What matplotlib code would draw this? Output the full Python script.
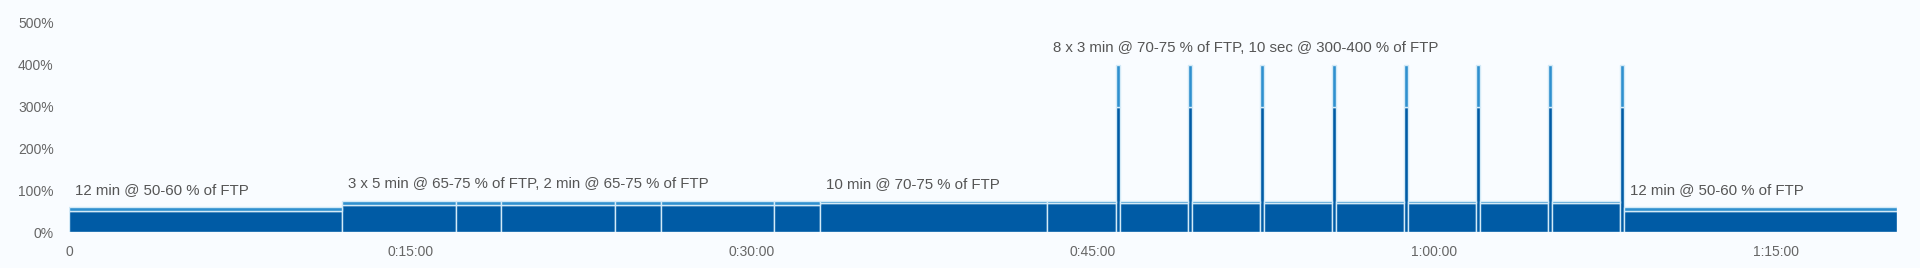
import numpy as np
import matplotlib.pyplot as plt

# workout intervals: duration in seconds, target range in % of FTP
durations = [720,
             300, 120, 300, 120, 300, 120,
             600,
             180, 10, 180, 10, 180, 10, 180, 10,
             180, 10, 180, 10, 180, 10, 180, 10,
             720]
low = [50,
       65, 65, 65, 65, 65, 65,
       70,
       70, 300, 70, 300, 70, 300, 70, 300,
       70, 300, 70, 300, 70, 300, 70, 300,
       50]
high = [60,
        75, 75, 75, 75, 75, 75,
        75,
        75, 400, 75, 400, 75, 400, 75, 400,
        75, 400, 75, 400, 75, 400, 75, 400,
        60]

# block labels: (first interval index, last interval index, text)
label_texts = ["12 min @ 50-60 % of FTP",
               "3 x 5 min @ 65-75 % of FTP, 2 min @ 65-75 % of FTP",
               "10 min @ 70-75 % of FTP",
               "8 x 3 min @ 70-75 % of FTP, 10 sec @ 300-400 % of FTP",
               "12 min @ 50-60 % of FTP"]
label_first = [0, 1, 7, 8, 24]
label_last = [0, 6, 7, 23, 24]

y_ticks = [0, 100, 200, 300, 400, 500]
x_ticks = [0, 900, 1800, 2700, 3600, 4500]

dark = '#005ba5'
band = '#2f90cf'
edge = '#d3eaf7'
bg = '#f9fcff'

starts = np.concatenate([[0], np.cumsum(durations)[:-1]])
durations = np.array(durations)
low = np.array(low)
high = np.array(high)

fig = plt.figure(figsize=(19.2, 2.68), dpi=100, facecolor=bg)
ax = fig.add_axes([69 / 1920, 1 - 232 / 268, (1897 - 69) / 1920, 209 / 268])
ax.set_facecolor(bg)

ax.bar(starts, low, width=durations, align='edge', color=dark,
       edgecolor=edge, linewidth=1.0)
ax.bar(starts, high - low, bottom=low, width=durations, align='edge',
       color=band, edgecolor=edge, linewidth=1.0)

for first, last, txt in zip(label_first, label_last, label_texts):
    top = high[first:last + 1].max()
    ax.annotate(txt, (starts[first], top), xytext=(6, 17),
                textcoords='offset pixels', ha='left', va='center',
                fontsize=10.8, color='#555555', family='Liberation Sans')

ax.set_xlim(0, durations.sum())
ax.set_ylim(0, 500)


def fmt_time(s):
    if s == 0:
        return "0"
    h, rem = divmod(int(s), 3600)
    m, sec = divmod(rem, 60)
    return f"{h}:{m:02d}:{sec:02d}"


ax.set_xticks(x_ticks)
ax.set_xticklabels([fmt_time(t) for t in x_ticks])
ax.set_yticks(y_ticks)
ax.set_yticklabels([f"{v}%" for v in y_ticks])
ax.tick_params(length=0, colors='#666666', labelsize=10)
ax.tick_params(axis='x', pad=9)
ax.tick_params(axis='y', pad=11)
for lab in ax.get_xticklabels() + ax.get_yticklabels():
    lab.set_family('Liberation Sans')
for sp in ax.spines.values():
    sp.set_visible(False)

fig.savefig('out.png', dpi=100, facecolor=bg)
